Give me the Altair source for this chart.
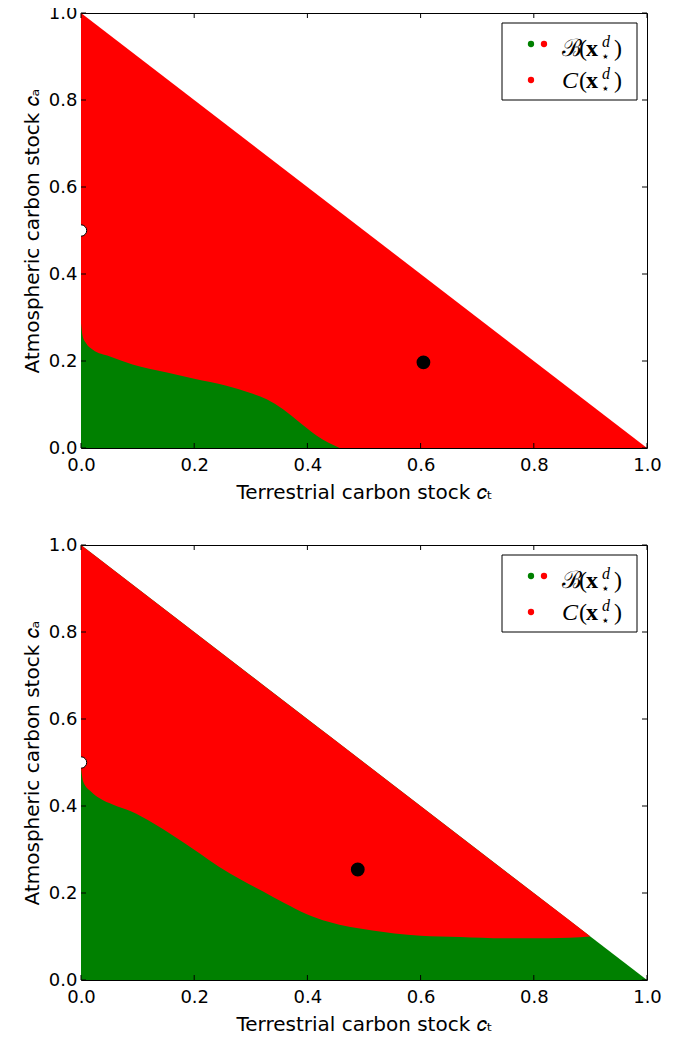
import altair as alt
import pandas as pd

# ---- data ----
TICKS = [0.0, 0.2, 0.4, 0.6, 0.8, 1.0]
TOTAL = 1.0  # simplex constraint c_t + c_a <= 1

# upper edge of the green region (top panel), ends on the c_t axis
top_ct = [0.0, 0.003, 0.009, 0.021, 0.05, 0.091, 0.15, 0.2, 0.257, 0.298, 0.328, 0.357, 0.387, 0.416, 0.457]
top_ca = [0.287, 0.257, 0.241, 0.226, 0.211, 0.192, 0.174, 0.159, 0.143, 0.127, 0.112, 0.089, 0.058, 0.029, 0.0]

# upper edge of the green region (bottom panel), ends on the diagonal
bot_ct = [0.0, 0.004, 0.018, 0.033, 0.057, 0.088, 0.127, 0.165, 0.204, 0.243, 0.282, 0.321,
          0.359, 0.398, 0.437, 0.476, 0.515, 0.554, 0.6, 0.67, 0.748, 0.826, 0.9]
bot_ca = [0.487, 0.456, 0.433, 0.418, 0.403, 0.388, 0.361, 0.330, 0.296, 0.261, 0.231, 0.204,
          0.177, 0.152, 0.134, 0.122, 0.114, 0.107, 0.102, 0.099, 0.096, 0.096, 0.1]

fixed_point = (0.0, 0.5)
top_state = (0.605, 0.197)
bot_state = (0.489, 0.254)

W, H = 566, 435
GREEN = "#008000"
RED = "#ff0000"
SANS = "DejaVu Sans"
SERIF = "Liberation Serif"


def region_frames(ct, ca):
    """Whole simplex triangle as background, the other region drawn over it."""
    triangle = pd.DataFrame([{"ct": 0.0, "lo": 0.0, "hi": TOTAL},
                             {"ct": TOTAL, "lo": 0.0, "hi": 0.0}])
    if ca[-1] == 0.0:  # boundary ends on the c_t axis: green pocket on red triangle
        over = pd.DataFrame([{"ct": x, "lo": 0.0, "hi": y} for x, y in zip(ct, ca)])
        return triangle, RED, over, GREEN
    # boundary ends on the diagonal: red band on green triangle
    over = pd.DataFrame([{"ct": x, "lo": y, "hi": TOTAL - x} for x, y in zip(ct, ca)])
    return triangle, GREEN, over, RED


def panel(ct, ca, state):
    tri_df, tri_color, over_df, over_color = region_frames(ct, ca)
    xs = alt.Scale(domain=[0, 1], nice=False, zero=False)
    ys = alt.Scale(domain=[0, 1], nice=False, zero=False)
    common = dict(values=TICKS, format=".1f", ticks=False, domain=False, grid=False,
                  labelFlush=False, labelOverlap=False, labelFont=SANS, labelFontSize=18,
                  labelColor="black", titleFont=SANS, titleFontSize=20,
                  titleFontWeight="normal", titleColor="black")
    xaxis = alt.Axis(labelPadding=8, title="Terrestrial carbon stock 𝑐ₜ", titlePadding=8, **common)
    yaxis = alt.Axis(labelPadding=4, title="Atmospheric carbon stock 𝑐ₐ", titlePadding=6, **common)

    tri = alt.Chart(tri_df).mark_area(color=tri_color, interpolate="linear").encode(
        x=alt.X("ct:Q", scale=xs, axis=xaxis),
        y=alt.Y("hi:Q", scale=ys, axis=yaxis),
        y2="lo:Q",
    )
    over = alt.Chart(over_df).mark_area(color=over_color, interpolate="monotone").encode(
        x=alt.X("ct:Q", scale=xs),
        y=alt.Y("hi:Q", scale=ys),
        y2="lo:Q",
    )

    tdf = pd.DataFrame({"v": TICKS})
    tick_style = dict(color="black", strokeWidth=1)
    t_bottom = alt.Chart(tdf).mark_rule(**tick_style).encode(
        x=alt.X("v:Q", scale=xs), y=alt.value(H), y2=alt.value(H - 5))
    t_top = alt.Chart(tdf).mark_rule(**tick_style).encode(
        x=alt.X("v:Q", scale=xs), y=alt.value(0), y2=alt.value(5))
    t_left = alt.Chart(tdf).mark_rule(**tick_style).encode(
        y=alt.Y("v:Q", scale=ys), x=alt.value(0), x2=alt.value(5))
    t_right = alt.Chart(tdf).mark_rule(**tick_style).encode(
        y=alt.Y("v:Q", scale=ys), x=alt.value(W - 5), x2=alt.value(W))

    fp = pd.DataFrame({"ct": [fixed_point[0]], "ca": [fixed_point[1]]})
    st = pd.DataFrame({"ct": [state[0]], "ca": [state[1]]})
    p_fixed = alt.Chart(fp).mark_point(shape="circle", filled=True, fill="white", stroke="black",
                                       strokeWidth=1, size=130, opacity=1, clip=True).encode(
        x=alt.X("ct:Q", scale=xs), y=alt.Y("ca:Q", scale=ys))
    p_state = alt.Chart(st).mark_point(shape="circle", filled=True, fill="black", stroke="black",
                                       size=140, opacity=1).encode(
        x=alt.X("ct:Q", scale=xs), y=alt.Y("ca:Q", scale=ys))

    # ---- legend box ----
    one = pd.DataFrame({"a": [0]})
    box = alt.Chart(one).mark_rect(fill="white", stroke="black", strokeWidth=1).encode(
        x=alt.value(421), x2=alt.value(556), y=alt.value(10), y2=alt.value(87))
    dot = lambda c, x, y: alt.Chart(one).mark_circle(color=c, size=40, opacity=1).encode(
        x=alt.value(x), y=alt.value(y))
    def txt(s, x, y, size=24, font=SERIF, style="normal", weight="normal"):
        return alt.Chart(one).mark_text(text=s, font=font, fontSize=size, fontStyle=style,
                                        fontWeight=weight, align="left", baseline="alphabetic",
                                        color="black").encode(x=alt.value(x), y=alt.value(y))
    legend = [box, dot(GREEN, 450, 31), dot(RED, 463, 31), dot(RED, 450, 67)]
    for label, font, style, base in [("ℬ", "DejaVu Serif", "normal", 43), ("C", SERIF, "italic", 75)]:
        legend += [
            txt(label, 481, base, font=font, style=style),
            txt("(", 498, base),
            txt("x", 505, base, weight="bold"),
            txt("d", 521, base - 9, size=16, style="italic"),
            txt("⋆", 520, base + 5, size=14),
            txt(")", 533, base),
        ]

    return alt.layer(tri, over, t_bottom, t_top, t_left, t_right, p_fixed, p_state,
                     *legend).properties(width=W, height=H)


top = panel(top_ct, top_ca, top_state)
bot = panel(bot_ct, bot_ca, bot_state)

chart = alt.vconcat(top, bot, spacing=97, bounds="flush").properties(
    padding={"left": 13, "top": -5, "right": 5, "bottom": 5}
).configure_view(stroke="black", strokeWidth=1)

chart.save("out.html", embed_options={"renderer": "svg", "actions": False})
